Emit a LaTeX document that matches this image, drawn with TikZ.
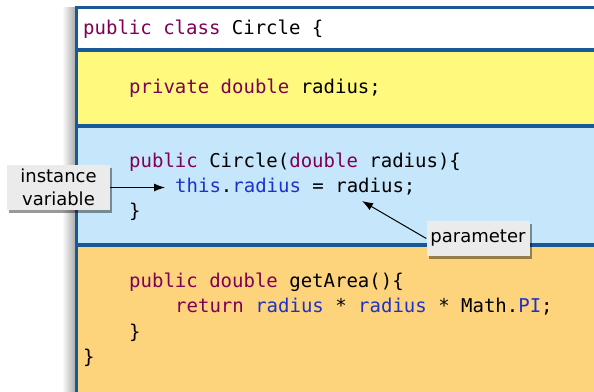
\documentclass[tikz,border=0pt]{standalone}
\usepackage{fontspec}
\setmonofont{DejaVu Sans Mono}
\newfontfamily\calloutfont{DejaVu Sans}
\usetikzlibrary{arrows.meta, shadows, positioning}
\definecolor{kwcolor}{RGB}{127,0,85}
\definecolor{fieldcolor}{RGB}{30,50,200}
\definecolor{framecolor}{RGB}{25,88,150}
\definecolor{fieldbg}{RGB}{255,250,125}
\definecolor{ctorbg}{RGB}{197,230,251}
\definecolor{methodbg}{RGB}{253,211,123}
\definecolor{calloutbg}{RGB}{235,235,235}
\newcommand{\kw}[1]{\textcolor{kwcolor}{#1}}
\newcommand{\fld}[1]{\textcolor{fieldcolor}{#1}}
\tikzset{
    codenode/.style = {draw=none, fill=none, anchor=base west, inner sep=0pt,
      font=\ttfamily\fontsize{19}{25}\selectfont},
    calloutnode/.style = {draw=none, fill=calloutbg, rectangle, inner sep=0pt, align=center,
      font=\calloutfont\fontsize{18}{23}\selectfont,
      drop shadow={shadow xshift=2pt, shadow yshift=-3pt, fill=black, opacity=0.4}},
    connect/.style = {black, line width=1pt, -{Latex[length=11pt, width=8pt]}},
    sepline/.style = {framecolor, line width=3.5pt}
}

\begin{document}
\begin{tikzpicture}[x=1pt, y=-1pt]
\useasboundingbox (0,0) rectangle (594,391);
\clip (0,0) rectangle (594,391);
% panel shadow
\shade[left color=white, right color=black!35] (62,7) rectangle (76,400);
% sections
\fill[white] (76,7) rectangle (600,50);
\fill[fieldbg] (76,50) rectangle (600,126);
\fill[ctorbg] (76,126) rectangle (600,245);
\fill[methodbg] (76,245) rectangle (600,400);
\foreach \y in {50,126,245}
  \draw[sepline] (76,\y) -- (600,\y);
\draw[framecolor, line width=3pt] (76,400) -- (76,7) -- (600,7);

% code
\node[codenode] (classline) at (83,34) {\kw{public class} Circle \{};
\node[codenode] (fieldline) at (129,93) {\kw{private double} radius;};
\node[codenode] (ctorline) at (129,167) {\kw{public} Circle(\kw{double} radius)\{};
\node[codenode] (thisline) at (175,192) {\fld{this}.\fld{radius} = radius;};
\node[codenode] (ctorclose) at (129,217) {\}};
\node[codenode] (methodline) at (129,287) {\kw{public double} getArea()\{};
\node[codenode] (returnline) at (175,312) {\kw{return} \fld{radius} * \fld{radius} * Math.\fld{PI};};
\node[codenode] (methodclose) at (129,338) {\}};
\node[codenode] (classclose) at (83,363) {\}};

% callouts
\node[calloutnode, minimum width=103pt, minimum height=45pt] (instvar) at (58.5,187.5) {instance\\variable};
\node[calloutnode, minimum width=103pt, minimum height=35pt] (param) at (478,238.5) {parameter};
\coordinate (paramtarget) at (362,201);
\draw[connect, shorten >=10pt] (instvar.east) -- (instvar.east -| thisline.west);
\draw[connect] (param.west) -- (paramtarget);
\end{tikzpicture}
\end{document}
